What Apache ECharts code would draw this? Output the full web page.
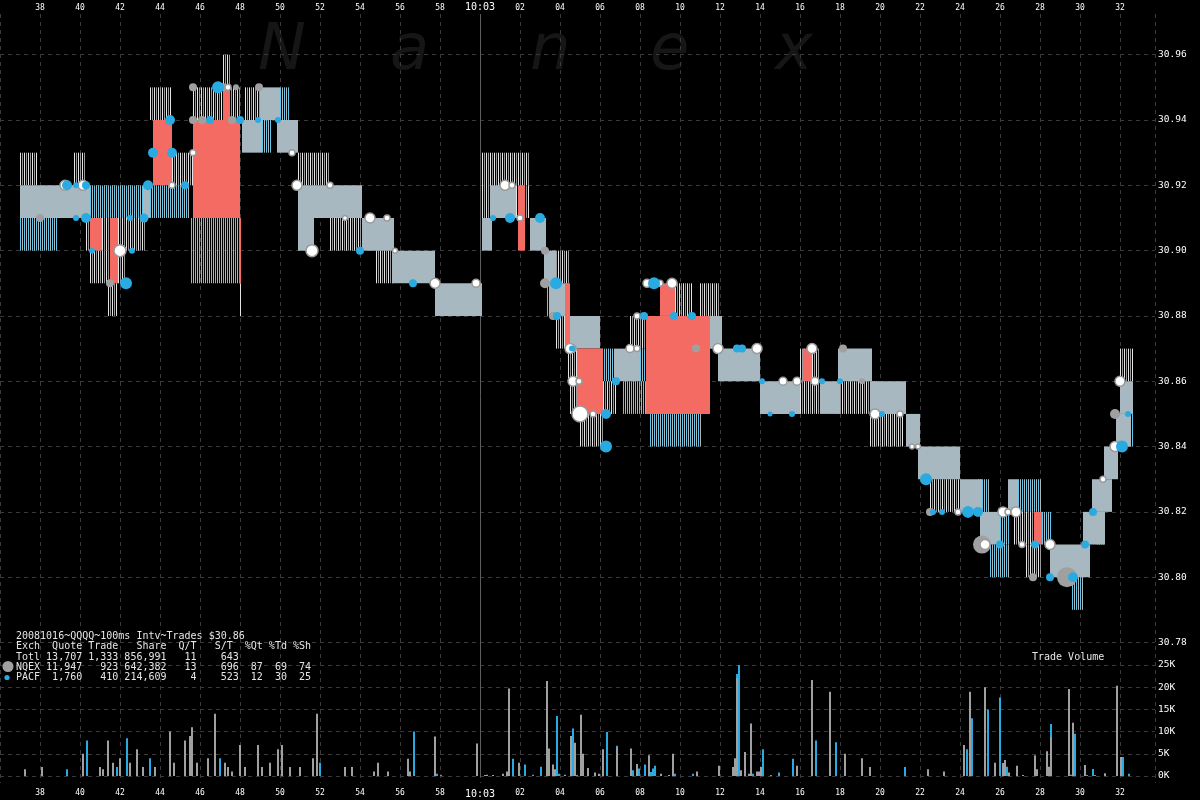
<!DOCTYPE html>
<html><head><meta charset="utf-8">
<script src="https://cdn.jsdelivr.net/npm/echarts/dist/echarts.min.js"></script>
<style>html,body{margin:0;padding:0;background:#000;}#c{width:1200px;height:800px;}</style>
</head><body><div id="c"></div>
<script>
// time axis in seconds after 10:02:00
const timeRange = [36, 93.75];
const priceTicks = [30.78, 30.80, 30.82, 30.84, 30.86, 30.88, 30.90, 30.92, 30.94, 30.96];
const volumeTicksK = [0, 5, 10, 15, 20, 25];

// [tStart, tEnd, low, high]
const quoteBand = [
 [37.0,40.5,30.91,30.92],[43.15,43.5,30.91,30.92],[48.1,49.1,30.93,30.94],[49.0,50.0,30.94,30.95],
 [49.85,50.9,30.93,30.94],[50.9,51.7,30.90,30.92],[51.7,54.1,30.91,30.92],[54.1,55.7,30.90,30.91],
 [55.6,57.75,30.89,30.90],[57.75,60.1,30.88,30.89],[60.1,60.6,30.90,30.91],[60.5,61.8,30.91,30.92],
 [62.5,63.3,30.90,30.91],[63.2,63.8,30.89,30.90],[63.5,64.4,30.88,30.89],[64.4,66.0,30.87,30.88],
 [66.75,68.0,30.86,30.87],[71.4,72.1,30.87,30.88],[71.9,74.0,30.86,30.87],[74.0,76.0,30.85,30.86],
 [77.0,78.0,30.85,30.86],[77.9,79.6,30.86,30.87],[79.5,81.3,30.85,30.86],[81.3,82.0,30.84,30.85],
 [81.9,84.0,30.83,30.84],[84.0,85.1,30.82,30.83],[85.0,86.0,30.81,30.82],[86.4,86.9,30.82,30.83],
 [88.5,90.5,30.80,30.81],[90.15,91.25,30.81,30.82],[90.6,91.6,30.82,30.83],[91.2,91.9,30.83,30.84],
 [91.8,92.5,30.84,30.85],[92.0,92.65,30.85,30.86]
];
const nqexQuotes = [
 [37.0,37.85,30.92,30.93],[39.7,40.3,30.92,30.93],[40.3,43.25,30.90,30.91],[40.5,42.25,30.89,30.90],
 [41.4,41.9,30.88,30.89],[43.5,44.6,30.94,30.95],[44.6,45.65,30.92,30.93],[45.65,48.0,30.94,30.95],
 [47.15,47.5,30.95,30.96],[48.25,49.0,30.94,30.95],[48.0,48.1,30.88,30.89],[50.9,52.5,30.92,30.93],
 [52.5,54.1,30.90,30.91],[54.8,55.7,30.89,30.90],[60.1,61.3,30.91,30.93],[61.3,62.5,30.92,30.93],
 [61.8,62.5,30.91,30.92],[63.3,64.5,30.89,30.90],[63.8,64.4,30.87,30.88],[64.4,64.9,30.86,30.87],
 [64.5,65.0,30.85,30.86],[65.0,66.15,30.84,30.85],[66.15,66.85,30.85,30.86],[67.5,68.35,30.87,30.88],
 [69.75,70.65,30.88,30.89],[70.65,71.8,30.87,30.88],[71.0,72.0,30.88,30.89],[76.0,77.0,30.86,30.87],
 [76.0,77.0,30.85,30.86],[77.9,80.0,30.85,30.86],[79.5,81.2,30.84,30.85],[82.5,84.0,30.82,30.83],
 [86.7,87.7,30.81,30.82],[87.3,88.1,30.80,30.81],[92.0,92.65,30.86,30.87]
];
const pacfQuotes = [
 [37.0,38.9,30.90,30.91],[40.5,43.15,30.91,30.92],[43.5,45.5,30.91,30.92],[45.55,48.0,30.89,30.91],
 [49.1,49.6,30.93,30.94],[50.0,50.5,30.94,30.95],[63.35,63.75,30.88,30.89],[66.0,66.75,30.86,30.87],
 [67.15,68.5,30.85,30.86],[68.0,68.5,30.86,30.87],[68.5,71.1,30.84,30.85],[71.1,71.5,30.85,30.86],
 [84.9,85.5,30.82,30.83],[86.0,86.5,30.81,30.82],[85.5,86.5,30.80,30.81],[86.9,88.1,30.82,30.83],
 [88.1,88.6,30.81,30.82],[89.6,90.2,30.79,30.80],[90.85,91.25,30.81,30.82],[92.0,92.65,30.84,30.85]
];
const crossedZones = [
 [40.5,41.1,30.90,30.91],[41.5,41.9,30.89,30.91],[43.65,44.6,30.92,30.94],[45.65,48.0,30.91,30.94],
 [47.15,47.5,30.94,30.95],[47.95,48.05,30.89,30.91],[61.9,62.25,30.90,30.92],[64.25,64.5,30.87,30.89],
 [64.85,66.15,30.85,30.87],[68.3,71.5,30.85,30.88],[69.0,69.75,30.88,30.89],[76.15,76.6,30.86,30.87],
 [87.7,88.1,30.81,30.82]
];
// trades [t, price, size]
const tradesNQEX = [
 [45.65,30.95,8],[47.15,30.95,8],[47.8,30.95,6],[48.95,30.95,8],[45.65,30.94,8],[46.1,30.94,8],
 [47.6,30.94,8],[63.25,30.90,8],[63.25,30.89,10],[63.65,30.88,8],[64.65,30.87,8],[70.8,30.87,8],
 [78.15,30.87,8],[79.1,30.86,6],[82.5,30.82,8],[85.1,30.81,18],[87.65,30.80,8],[89.35,30.80,20],
 [91.75,30.85,10],[41.5,30.89,8],[38.0,30.91,8]
];
const tradesOther = [
 [39.25,30.92,10],[40.15,30.92,10],[42.0,30.90,12],[47.4,30.95,6],[45.65,30.93,6],[44.6,30.92,6],
 [50.85,30.92,10],[50.6,30.93,6],[51.6,30.90,12],[52.5,30.92,6],[53.25,30.91,5],[54.5,30.91,10],
 [55.35,30.91,6],[55.75,30.90,5],[57.75,30.89,10],[59.8,30.89,8],[61.25,30.92,10],[61.6,30.92,6],
 [62.0,30.91,6],[64.5,30.87,10],[64.65,30.86,10],[64.95,30.86,6],[65.0,30.85,16],[65.65,30.85,6],
 [67.5,30.87,8],[67.85,30.87,6],[67.85,30.88,6],[68.35,30.89,8],[69.0,30.89,6],[69.6,30.89,10],
 [71.9,30.87,10],[73.85,30.87,10],[75.15,30.86,8],[75.85,30.86,8],[76.6,30.87,10],[76.75,30.86,8],
 [79.75,30.85,10],[81.0,30.85,6],[81.6,30.84,5],[81.9,30.84,5],[83.9,30.82,6],[86.15,30.82,10],
 [86.4,30.82,6],[86.8,30.82,10],[87.1,30.81,6],[88.5,30.81,10],[91.15,30.83,6],[91.75,30.84,10],
 [92.0,30.86,10],[85.25,30.81,10]
];
const tradesPACF = [
 [39.35,30.92,10],[39.8,30.92,6],[40.3,30.92,8],[39.8,30.91,6],[40.3,30.91,10],[42.5,30.91,6],
 [43.2,30.91,9],[40.6,30.90,6],[42.6,30.90,6],[42.3,30.89,12],[43.4,30.92,10],[43.65,30.93,10],
 [44.6,30.93,10],[45.25,30.92,8],[46.9,30.95,12],[44.5,30.94,10],[46.5,30.94,8],[48.0,30.94,8],
 [48.9,30.94,6],[49.9,30.94,6],[54.0,30.90,8],[56.65,30.89,8],[60.65,30.91,6],[61.5,30.91,10],
 [63.0,30.91,10],[63.8,30.89,12],[63.85,30.88,8],[64.6,30.87,6],[66.3,30.85,10],[66.3,30.84,12],
 [66.8,30.86,8],[68.7,30.89,12],[68.2,30.88,8],[69.7,30.88,8],[70.6,30.88,8],[72.85,30.87,8],
 [73.1,30.87,8],[74.1,30.86,6],[74.5,30.85,5],[75.6,30.85,6],[77.1,30.86,6],[78.0,30.86,6],
 [80.1,30.85,6],[82.3,30.83,12],[82.65,30.82,6],[83.1,30.82,6],[84.4,30.82,12],[84.9,30.82,10],
 [86.0,30.81,8],[87.75,30.81,8],[88.5,30.80,8],[89.65,30.80,10],[90.25,30.81,8],[90.65,30.82,8],
 [92.1,30.84,12],[92.4,30.85,6]
];
// trade volume per 100ms [t, K shares]
const volNQEX = [
 [37.25,1.5],[38.1,2],[40.15,5],[41.0,2],[41.15,1.5],[41.4,8],[41.65,3],[42.0,4],[42.5,3],[42.85,6],
 [43.15,2],[43.75,2],[44.5,10],[44.7,3],[45.25,8],[45.5,9],[45.6,11],[45.85,3],[46.4,4],[46.75,14],
 [47.25,3],[47.4,2],[47.6,1],[48.0,7],[48.25,2],[48.9,7],[49.1,2],[49.5,3],[49.9,6],[50.1,7],[50.5,2],
 [51.0,2],[51.65,4],[51.85,14],[53.25,2],[53.6,2],[54.7,1],[54.9,3],[55.4,1],[56.4,3.9],[56.5,1],
 [57.75,8.9],[59.85,7.3],[60.25,0.2],[60.35,0.3],[60.65,0.2],[61.15,0.5],[61.35,1],[61.45,19.7],
 [61.95,3],[63.35,21.4],[63.45,6.2],[63.65,2.6],[63.75,1.5],[64.25,0.3],[64.55,9],[64.75,7.5],
 [65.05,13.8],[65.15,5],[65.4,1.8],[65.75,0.8],[65.95,0.5],[66.15,6],[66.85,6.4],[67.55,6.2],
 [67.85,2.7],[68.45,4.7],[69.05,0.5],[69.45,0.2],[69.65,5],[70.85,1],[71.95,2.3],[72.65,2],[72.75,4],
 [72.85,22],[73.05,1.3],[73.25,5.4],[73.45,0.5],[73.55,11.8],[73.85,1],[73.95,1],[74.05,2],[75.85,2.3],
 [76.6,21.6],[77.5,19],[78.25,5],[79.1,4],[79.5,2],[82.4,1.5],[83.2,1],[84.2,7],[84.5,19],[85.25,20],
 [85.75,3],[86.15,2.9],[86.25,3.6],[86.45,0.8],[86.85,2.3],[87.15,0.2],[87.75,4.5],[87.85,1.5],
 [88.35,5.6],[88.45,2.1],[88.55,8.7],[89.45,19.6],[89.65,12],[90.25,2.5],[91.25,0.6],[91.85,20.3],[92.05,4.3]
];
const volPACF = [
 [39.35,1.5],[40.35,8],[41.85,2],[42.35,8.5],[43.5,4],[47.0,4],[52.0,3],[56.7,10],[57.85,0.5],[58.05,0.2],
 [61.65,3.9],[62.25,2.6],[62.65,0.3],[63.05,2.1],[63.85,13.5],[63.95,0.5],[64.65,10.7],[64.85,0.2],
 [66.35,9.9],[66.85,6.8],[67.65,1.3],[67.95,1.7],[68.25,2.6],[68.55,0.9],[68.65,1.7],[68.75,2.3],
 [69.75,0.5],[70.65,0.5],[72.85,23],[72.95,25],[73.65,0.5],[74.15,6],[74.55,0.2],[74.95,0.8],[75.65,3.9],
 [76.8,8],[77.8,7.6],[81.25,2],[84.35,6],[84.6,13],[85.4,15],[86.0,17.7],[86.35,2.1],[87.75,4.7],
 [88.55,11.7],[89.55,0.3],[89.75,9.5],[90.35,0.2],[90.65,1.6],[90.75,0.2],[92.15,4.3],[92.45,0.5]
];
const openMarker = [60];
const legendLines = [
 '20081016~QQQQ~100ms Intv~Trades $30.86',
 'Exch  Quote Trade   Share  Q/T   S/T  %Qt %Td %Sh',
 'Totl 13,707 1,333 856,991   11    643',
 'NQEX 11,947   923 642,382   13    696  87  69  74',
 'PACF  1,760   410 214,609    4    523  12  30  25'
];
const watermark = ['N', 'a', 'n', 'e', 'x'];

const mono = '"DejaVu Sans Mono", monospace';
const C = { band: '#a7b8c0', red: '#f46b63', blue: '#29abe2', gray: '#a0a0a0', grid: '#3a3a3a' };

function rectRender(fill) {
  return function (params, api) {
    const a = api.coord([api.value(0), api.value(3)]);
    const b = api.coord([api.value(1), api.value(2)]);
    return { type: 'rect', shape: { x: a[0], y: a[1], width: b[0] - a[0], height: b[1] - a[1] }, style: { fill: fill } };
  };
}
function hatchRender(c1, c2) {
  return function (params, api) {
    const a = api.coord([api.value(0), api.value(3)]);
    const b = api.coord([api.value(1), api.value(2)]);
    const ch = [];
    let i = 0;
    for (let x = Math.round(a[0]) + 0.5; x < b[0]; x += 2, i++) {
      ch.push({ type: 'line', shape: { x1: x, y1: a[1], x2: x, y2: b[1] }, style: { stroke: i % 2 ? c2 : c1, lineWidth: 1 } });
    }
    return { type: 'group', children: ch };
  };
}
function volRender(fill) {
  return function (params, api) {
    const top = api.coord([api.value(0), api.value(1)]);
    const base = api.coord([api.value(0), 0]);
    return { type: 'rect', shape: { x: Math.round(top[0]) - 1, y: top[1], width: 2, height: base[1] - top[1] }, style: { fill: fill } };
  };
}
function fmtTime(v) {
  v = Math.round(v);
  if (v === 60) return '{big|10:03}';
  const s = v % 60;
  return (s < 10 ? '0' : '') + s;
}
const dashed = { show: true, lineStyle: { color: C.grid, type: [4, 4], width: 1 } };
const timeLabel = { show: true, color: '#fff', fontSize: 8, fontFamily: mono, formatter: fmtTime, showMinLabel: false, showMaxLabel: false,
  rich: { big: { fontSize: 10, fontFamily: mono, color: '#fff' } } };

const graphics = [];
const wmX = [258, 390, 530, 650, 775];
watermark.forEach((ch, i) => graphics.push({ type: 'text', x: wmX[i], y: 52, z: 0,
  style: { text: ch, font: 'italic 64px "DejaVu Sans"', fill: '#161616', verticalAlign: 'middle' } }));
const lineY = [636, 646.5, 657, 667, 677.5];
legendLines.forEach((t, i) => graphics.push({ type: 'text', x: 16, y: lineY[i], z: 10,
  style: { text: t, font: '10px ' + mono, fill: '#e6e6e6', verticalAlign: 'middle' } }));
graphics.push({ type: 'circle', shape: { cx: 8, cy: 666.5, r: 5.5 }, style: { fill: C.gray }, z: 10 });
graphics.push({ type: 'circle', shape: { cx: 7, cy: 677.5, r: 2.6 }, style: { fill: C.blue }, z: 10 });
graphics.push({ type: 'text', x: 1032, y: 657, z: 10, style: { text: 'Trade Volume', font: '10px ' + mono, fill: '#e6e6e6', verticalAlign: 'middle' } });

const chart = echarts.init(document.getElementById('c'));
chart.setOption({
  backgroundColor: '#000',
  animation: false,
  graphic: graphics,
  grid: [
    { left: 0, right: 45, top: -10.6, height: 653.1, outerBoundsMode: 'none' },
    { left: 0, right: 45, top: 665, height: 111, outerBoundsMode: 'none' },
    { left: 0, right: 45, top: 14, height: 769, outerBoundsMode: 'none' }
  ],
  xAxis: [
    { gridIndex: 0, type: 'value', min: timeRange[0], max: timeRange[1], show: false },
    { gridIndex: 1, type: 'value', min: timeRange[0], max: timeRange[1], show: false },
    { gridIndex: 2, type: 'value', position: 'top', min: timeRange[0], max: timeRange[1], interval: 2,
      axisLine: { show: false }, axisTick: { show: false }, splitLine: dashed, axisLabel: Object.assign({ margin: 2 }, timeLabel) },
    { gridIndex: 2, type: 'value', position: 'bottom', min: timeRange[0], max: timeRange[1], interval: 2,
      axisLine: { show: false }, axisTick: { show: false }, splitLine: { show: false }, axisLabel: Object.assign({ margin: 6 }, timeLabel) }
  ],
  yAxis: [
    { gridIndex: 0, type: 'value', position: 'right', min: priceTicks[0], max: 30.98, interval: 0.02,
      axisLine: { show: false }, axisTick: { show: false }, splitLine: dashed,
      axisLabel: { color: '#fff', fontSize: 9.5, fontFamily: mono, margin: 3, showMaxLabel: false, formatter: v => v.toFixed(2) } },
    { gridIndex: 1, type: 'value', position: 'right', min: volumeTicksK[0], max: volumeTicksK[volumeTicksK.length - 1], interval: 5,
      axisLine: { show: false }, axisTick: { show: false }, splitLine: dashed,
      axisLabel: { color: '#fff', fontSize: 9.5, fontFamily: mono, margin: 3, formatter: v => v + 'K' } },
    { gridIndex: 2, type: 'value', min: 0, max: 1, show: false }
  ],
  series: [
    { type: 'custom', xAxisIndex: 2, yAxisIndex: 2, z: 1, silent: true, data: openMarker.map(t => [t]),
      renderItem: function (params, api) {
        const x = Math.round(api.coord([api.value(0), 0])[0]) + 0.5;
        const cs = params.coordSys;
        return { type: 'line', shape: { x1: x, y1: cs.y, x2: x, y2: cs.y + cs.height - 6 }, style: { stroke: '#5e5e5e', lineWidth: 1 } };
      } },
    { type: 'custom', xAxisIndex: 0, yAxisIndex: 0, z: 2, data: nqexQuotes, renderItem: hatchRender('#e4e4e4', '#9a9a9a') },
    { type: 'custom', xAxisIndex: 0, yAxisIndex: 0, z: 2, data: pacfQuotes, renderItem: hatchRender('#5cc8ee', '#b4b4b4') },
    { type: 'custom', xAxisIndex: 0, yAxisIndex: 0, z: 3, data: quoteBand, renderItem: rectRender(C.band) },
    { type: 'custom', xAxisIndex: 0, yAxisIndex: 0, z: 4, data: crossedZones, renderItem: rectRender(C.red) },
    { type: 'scatter', xAxisIndex: 0, yAxisIndex: 0, z: 5, data: tradesNQEX, symbolSize: v => v[2], itemStyle: { color: C.gray, opacity: 1 } },
    { type: 'scatter', xAxisIndex: 0, yAxisIndex: 0, z: 6, data: tradesOther, symbolSize: v => v[2], itemStyle: { color: '#fff', borderColor: '#9a9a9a', borderWidth: 1.5, opacity: 1 } },
    { type: 'scatter', xAxisIndex: 0, yAxisIndex: 0, z: 7, data: tradesPACF, symbolSize: v => v[2], itemStyle: { color: C.blue, opacity: 1 } },
    { type: 'custom', xAxisIndex: 1, yAxisIndex: 1, z: 3, data: volPACF, renderItem: volRender(C.blue) },
    { type: 'custom', xAxisIndex: 1, yAxisIndex: 1, z: 4, data: volNQEX, renderItem: volRender(C.gray) }
  ]
});
</script></body></html>
